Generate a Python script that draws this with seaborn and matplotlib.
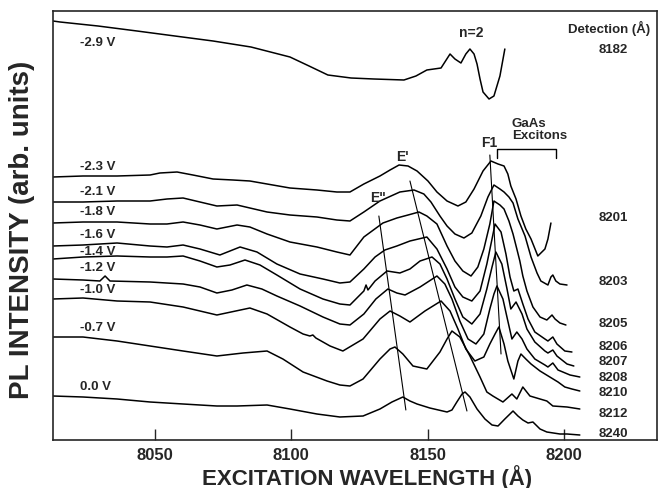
import matplotlib
matplotlib.use("Agg")
import matplotlib.pyplot as plt
import pandas as pd
import seaborn as sns

# PLE spectra: excitation wavelength (A) and PL intensity (arb. units)
wl_m29 = [8012.6, 8015.2, 8029.1, 8043.4, 8057.3, 8071.3, 8085.2, 8099.5, 8106.5, 8113.4, 8121.9, 8130.3, 8141.3, 8145.7,
          8149.7, 8154.9, 8158.2, 8160.0, 8162.2, 8164.0, 8165.5, 8167.0, 8168.1, 8169.2, 8170.3, 8172.5, 8174.3, 8176.5, 8178.3]
pl_m29 = [419, 418, 414, 409, 404, 399, 393, 383, 374, 365, 362, 361, 360, 364,
          370, 372, 386, 381, 377, 386, 391, 386, 376, 361, 348, 341, 344, 364, 391]

wl_m23 = [8012.6, 8023.6, 8036.1, 8048.2, 8051.8, 8058.1, 8063.9, 8071.3, 8078.6, 8084.8, 8091.1, 8099.5, 8109.4, 8116.7,
          8121.5, 8126.6, 8132.5, 8136.2, 8139.5, 8142.8, 8146.1, 8150.1, 8153.4, 8157.1, 8161.1, 8164.0, 8167.0, 8170.3,
          8173.2, 8175.8, 8178.0, 8179.4, 8180.5, 8182.4, 8184.2, 8186.0, 8187.9, 8190.4, 8193.0, 8194.1, 8195.2]
pl_m23 = [263, 264, 264, 265, 267, 268, 265, 261, 260, 259, 256, 252, 250, 248,
          248, 256, 264, 270, 275, 274, 269, 259, 248, 239, 234, 238, 251, 269,
          279, 276, 274, 266, 254, 241, 224, 211, 201, 184, 191, 201, 217]

wl_m21 = [8012.6, 8023.6, 8036.1, 8048.2, 8054.4, 8060.3, 8066.5, 8072.7, 8080.1, 8084.8, 8091.1, 8099.5, 8109.4, 8116.7,
          8121.5, 8126.6, 8132.5, 8139.8, 8145.0, 8148.6, 8151.2, 8154.5, 8157.1, 8160.0, 8163.3, 8166.2, 8169.5, 8172.1,
          8174.3, 8176.5, 8178.0, 8179.8, 8181.3, 8183.1, 8185.7, 8187.9, 8190.1, 8191.5, 8194.1, 8195.2, 8195.9, 8197.0,
          8198.5, 8201.1]
pl_m21 = [238, 238, 239, 239, 241, 242, 238, 234, 235, 232, 228, 225, 223, 220,
          219, 228, 239, 248, 250, 246, 238, 224, 214, 206, 202, 207, 224, 243,
          255, 251, 248, 243, 237, 221, 204, 183, 167, 159, 155, 163, 165, 159,
          156, 155]

wl_m18 = [8012.6, 8023.6, 8036.1, 8048.2, 8054.4, 8060.3, 8066.5, 8072.7, 8080.1, 8084.8, 8091.1, 8099.5, 8109.4, 8116.7,
          8121.5, 8126.6, 8129.6, 8133.6, 8138.7, 8142.8, 8146.8, 8149.7, 8153.4, 8157.1, 8160.0, 8162.9, 8165.9, 8168.4,
          8170.6, 8172.8, 8174.3, 8176.5, 8178.0, 8179.8, 8181.3, 8182.7, 8183.8, 8184.9, 8186.4, 8188.6, 8191.2, 8193.7,
          8195.6, 8196.7, 8198.5, 8200.7]
pl_m18 = [217, 218, 218, 216, 216, 218, 215, 211, 215, 213, 206, 198, 193, 188,
          185, 203, 209, 217, 222, 225, 228, 224, 216, 194, 179, 169, 164, 173,
          191, 216, 239, 235, 231, 219, 206, 191, 179, 164, 149, 133, 123, 120,
          125, 121, 117, 115]

wl_m16 = [8012.6, 8023.6, 8036.1, 8048.2, 8054.4, 8060.3, 8066.5, 8073.8, 8081.2, 8087.4, 8094.7, 8103.2, 8111.6, 8117.8,
          8121.5, 8126.6, 8130.7, 8134.3, 8138.7, 8143.5, 8149.7, 8153.4, 8157.1, 8160.0, 8162.9, 8166.2, 8169.2, 8171.7,
          8173.6, 8174.7, 8176.9, 8178.7, 8180.2, 8181.6, 8183.1, 8184.9, 8186.8, 8189.3, 8193.0, 8194.1, 8195.9, 8197.4,
          8200.3, 8202.9]
pl_m16 = [194, 195, 197, 194, 193, 195, 191, 185, 193, 188, 176, 166, 161, 157,
          158, 171, 183, 190, 194, 199, 203, 191, 171, 153, 143, 139, 149, 176,
          201, 216, 208, 186, 163, 149, 151, 136, 121, 108, 101, 99, 103, 96,
          89, 88]

wl_m14 = [8012.6, 8023.6, 8036.1, 8048.2, 8054.4, 8060.3, 8066.5, 8072.7, 8077.5, 8083.0, 8088.5, 8094.7, 8103.2, 8111.6,
          8117.8, 8121.5, 8126.6, 8127.4, 8128.1, 8130.7, 8135.1, 8139.8, 8143.5, 8147.2, 8151.6, 8154.5, 8157.1, 8160.0,
          8162.9, 8166.2, 8169.2, 8171.7, 8173.6, 8175.0, 8177.2, 8179.1, 8180.5, 8182.4, 8184.6, 8186.4, 8189.3, 8193.0,
          8194.1, 8195.9, 8197.4, 8201.1, 8203.6]
pl_m14 = [181, 183, 184, 183, 183, 184, 179, 173, 175, 180, 175, 165, 151, 141,
          136, 135, 149, 155, 150, 159, 169, 167, 171, 179, 183, 176, 161, 141,
          123, 116, 126, 151, 173, 188, 176, 151, 131, 138, 126, 111, 98, 89,
          87, 90, 84, 76, 74]

wl_m12 = [8012.6, 8023.6, 8029.8, 8031.7, 8033.5, 8048.2, 8060.3, 8066.5, 8072.7, 8078.2, 8083.7, 8089.2, 8094.7, 8103.2,
          8111.6, 8117.8, 8121.5, 8126.6, 8131.0, 8135.4, 8138.7, 8141.7, 8147.2, 8153.4, 8156.3, 8158.9, 8161.8, 8164.8,
          8167.7, 8170.6, 8172.8, 8174.3, 8175.4, 8177.6, 8179.4, 8180.9, 8182.7, 8184.6, 8186.4, 8189.3, 8193.0, 8194.1,
          8195.9, 8197.8, 8202.2, 8205.8]
pl_m12 = [161, 160, 159, 164, 159, 158, 156, 153, 147, 150, 155, 151, 144, 134,
          123, 116, 115, 126, 141, 151, 147, 145, 153, 164, 156, 141, 119, 101,
          96, 106, 131, 146, 154, 141, 119, 101, 108, 101, 91, 81, 75, 73,
          77, 70, 65, 63]

wl_m10 = [8012.6, 8023.6, 8036.1, 8048.2, 8060.3, 8072.7, 8084.8, 8091.1, 8099.5, 8104.3, 8106.8, 8107.9, 8109.0, 8114.2,
          8118.9, 8126.3, 8132.5, 8136.2, 8139.8, 8143.5, 8149.0, 8154.9, 8158.2, 8161.1, 8164.0, 8167.3, 8170.6, 8172.8,
          8174.7, 8176.1, 8178.0, 8179.4, 8181.6, 8183.1, 8184.2, 8186.0, 8187.9, 8191.2, 8194.8, 8197.8, 8200.3, 8202.9,
          8205.8]
pl_m10 = [141, 142, 139, 138, 133, 125, 132, 126, 113, 106, 104, 105, 102, 94,
          89, 101, 121, 129, 124, 118, 129, 139, 129, 111, 91, 79, 83, 96,
          106, 113, 96, 79, 61, 79, 86, 81, 76, 69, 63, 58, 53, 51,
          49]

wl_m07 = [8012.6, 8023.6, 8036.1, 8048.2, 8060.3, 8072.7, 8082.3, 8091.1, 8096.9, 8104.3, 8113.1, 8117.8, 8121.5, 8126.3,
          8132.5, 8136.2, 8138.0, 8140.9, 8144.6, 8149.7, 8154.5, 8157.1, 8158.9, 8161.8, 8165.5, 8169.2, 8171.7, 8173.9,
          8177.6, 8180.9, 8182.7, 8184.9, 8187.5, 8191.2, 8193.7, 8195.9, 8201.1, 8205.8]
pl_m07 = [103, 103, 99, 94, 89, 84, 87, 89, 81, 68, 59, 55, 54, 61,
          81, 91, 93, 86, 74, 71, 88, 101, 109, 103, 84, 63, 48, 44,
          38, 46, 41, 53, 44, 41, 39, 34, 33, 31]

wl_00 = [8012.6, 8023.6, 8036.1, 8048.2, 8060.3, 8072.7, 8080.1, 8091.1, 8099.5, 8109.4, 8117.8, 8126.3, 8132.5, 8136.9,
         8140.9, 8143.5, 8146.1, 8150.8, 8157.1, 8158.9, 8160.7, 8162.6, 8163.7, 8165.5, 8168.1, 8171.0, 8173.6, 8175.8,
         8178.3, 8181.3, 8183.1, 8184.9, 8186.8, 8188.6, 8191.2, 8193.7, 8198.5, 8201.1, 8205.8]
pl_00 = [44, 43, 41, 38, 36, 34, 34, 35, 31, 26, 23, 24, 31, 38,
         43, 39, 36, 32, 28, 30, 38, 46, 48, 43, 31, 21, 15, 14,
         21, 29, 24, 20, 17, 18, 11, 8, 6, 6, 5]

bias_labels = ["-2.9 V", "-2.3 V", "-2.1 V", "-1.8 V", "-1.6 V", "-1.4 V", "-1.2 V", "-1.0 V", "-0.7 V", "0.0 V"]
bias_label_y = [398, 274, 249, 229, 206, 189, 173, 151, 113, 54]
detection_labels = ["8182", "8201", "8203", "8205", "8206", "8207", "8208", "8210", "8212", "8240"]
detection_label_y = [391, 223, 159, 117, 94, 79, 63, 48, 27, 7]

# guide lines through the E", E' and F1 peaks
e2_line_x, e2_line_y = [8132.1, 8142.0], [224, 30]
e1_line_x, e1_line_y = [8143.5, 8164.4], [259, 29]
f1_line_x, f1_line_y = [8172.8, 8176.9], [285, 86]
bracket_x, bracket_y = [8175.4, 8175.4, 8197.0, 8197.0], [282, 291, 291, 282]

wavelengths = [wl_m29, wl_m23, wl_m21, wl_m18, wl_m16, wl_m14, wl_m12, wl_m10, wl_m07, wl_00]
intensities = [pl_m29, pl_m23, pl_m21, pl_m18, pl_m16, pl_m14, pl_m12, pl_m10, pl_m07, pl_00]

frames = []
for label, wl, pl in zip(bias_labels, wavelengths, intensities):
    frames.append(pd.DataFrame({"wavelength": wl, "intensity": pl, "bias": label}))
spectra = pd.concat(frames, ignore_index=True)

sns.set_style("ticks")
plt.rcParams["font.family"] = ["Liberation Sans", "DejaVu Sans"]
plt.rcParams["font.weight"] = "bold"

fig = plt.figure(figsize=(6.58, 4.89), dpi=100)
ax = fig.add_axes([53 / 658, 1 - 441 / 489, 604 / 658, 429 / 489])

sns.lineplot(data=spectra, x="wavelength", y="intensity", units="bias", estimator=None,
             sort=False, color="black", lw=1.1, ax=ax)

for xs, ys in [(e2_line_x, e2_line_y), (e1_line_x, e1_line_y), (f1_line_x, f1_line_y)]:
    ax.plot(xs, ys, color="black", lw=0.8)
ax.plot(bracket_x, bracket_y, color="black", lw=1.0)

for label, y in zip(bias_labels, bias_label_y):
    ax.text(8022.5, y, label, fontsize=9.5, fontweight="bold", ha="left", va="center")
for label, y in zip(detection_labels, detection_label_y):
    ax.text(8218.0, y, label, fontsize=9.5, fontweight="bold", ha="center", va="center")
ax.text(8216.5, 413, "Detection (\u00c5)", fontsize=9.5, fontweight="bold", ha="center", va="center")

ax.text(8165.9, 408, "n=2", fontsize=10, fontweight="bold", ha="center", va="center")
ax.text(8140.6, 284, "E'", fontsize=10, fontweight="bold", ha="center", va="center")
ax.text(8131.8, 243, 'E"', fontsize=10, fontweight="bold", ha="center", va="center")
ax.text(8172.5, 298, "F1", fontsize=10, fontweight="bold", ha="center", va="center")
ax.text(8180.9, 311, "GaAs\nExcitons", fontsize=9.5, fontweight="bold", ha="left", va="center",
        linespacing=0.95)

ax.set_xlim(8012.6, 8234.1)
ax.set_ylim(0, 429)
ax.set_xticks([8050, 8100, 8150, 8200])
ax.set_yticks([])
ax.tick_params(axis="x", direction="in", length=8, width=1, pad=5, labelsize=12)
for t in ax.get_xticklabels():
    t.set_fontweight("bold")
for side in ["top", "right", "left", "bottom"]:
    ax.spines[side].set_visible(True)
    ax.spines[side].set_linewidth(1.2)

ax.set_xlabel("")
ax.set_ylabel("")
fig.text(367 / 658, 1 - 478 / 489, "EXCITATION WAVELENGTH (\u00c5)", fontsize=16, fontweight="bold",
         ha="center", va="center")
fig.text(22 / 658, 1 - 230 / 489, "PL INTENSITY (arb. units)", fontsize=20, fontweight="bold",
         ha="center", va="center", rotation=90)

fig.savefig("out.png", dpi=100)
